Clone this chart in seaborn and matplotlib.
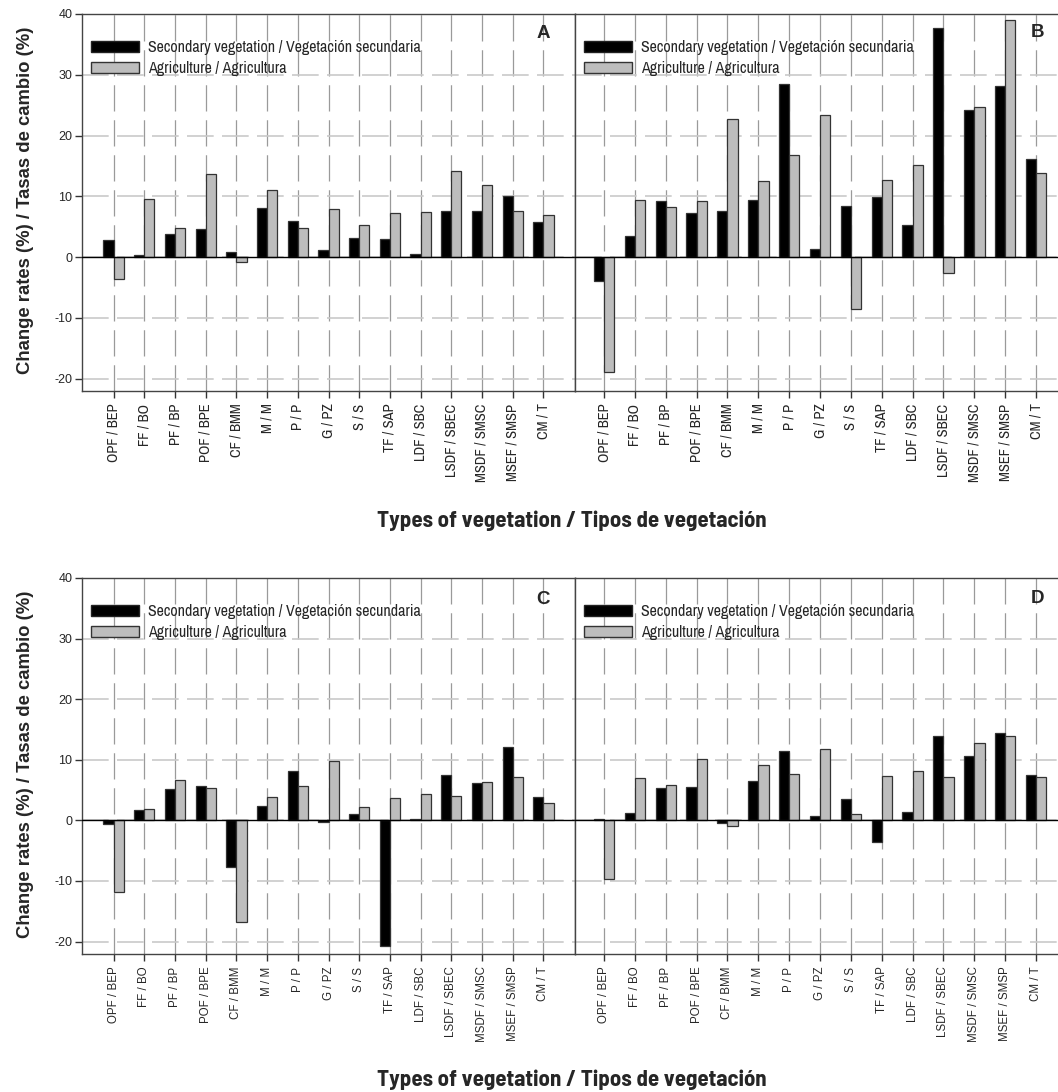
import matplotlib
matplotlib.use("Agg")
import matplotlib.pyplot as plt
from matplotlib.patches import Patch
import seaborn as sns
import pandas as pd

categories = ["OPF / BEP", "FF / BO", "PF / BP", "POF / BPE", "CF / BMM", "M / M", "P / P",
              "G / PZ", "S / S", "TF / SAP", "LDF / SBC", "LSDF / SBEC", "MSDF / SMSC",
              "MSEF / SMSP", "CM / T"]
series = ["Secondary vegetation / Vegetación secundaria", "Agriculture / Agricultura"]

a_sec = [2.75, 0.3, 3.85, 4.6, 0.9, 8.1, 5.9, 1.2, 3.2, 2.9, 0.45, 7.6, 7.5, 10.05, 5.8]
a_agr = [-3.6, 9.6, 4.7, 13.7, -0.9, 11.0, 4.7, 7.9, 5.2, 7.25, 7.35, 14.1, 11.8, 7.5, 6.9]

b_sec = [-3.9, 3.45, 9.3, 7.2, 7.6, 9.4, 28.5, 1.4, 8.35, 9.8, 5.2, 37.7, 24.2, 28.1, 16.2]
b_agr = [-19.0, 9.4, 8.2, 9.2, 22.7, 12.5, 16.8, 23.4, -8.5, 12.7, 15.2, -2.6, 24.7, 39.0, 13.8]

c_sec = [-0.55, 1.75, 5.2, 5.7, -7.7, 2.4, 8.1, -0.3, 1.1, -20.7, 0.3, 7.5, 6.1, 12.05, 3.8]
c_agr = [-11.8, 1.9, 6.7, 5.35, -16.7, 3.9, 5.7, 9.85, 2.15, 3.7, 4.35, 4.1, 6.3, 7.1, 2.9]

d_sec = [0.15, 1.3, 5.35, 5.5, -0.45, 6.55, 11.4, 0.8, 3.6, -3.5, 1.4, 13.9, 10.7, 14.5, 7.45]
d_agr = [-9.7, 7.05, 5.9, 10.1, -0.9, 9.1, 7.6, 11.8, 1.05, 7.3, 8.1, 7.2, 12.8, 14.0, 7.2]

yticks = [-20, -10, 0, 10, 20, 30, 40]

panels = [("A", a_sec, a_agr), ("B", b_sec, b_agr), ("C", c_sec, c_agr), ("D", d_sec, d_agr)]

narrow = ["Archivo Narrow", "Liberation Sans Narrow", "Liberation Sans", "DejaVu Sans"]
narrow_bold = ["Barlow Semi Condensed", "Liberation Sans Narrow", "Liberation Sans", "DejaVu Sans"]
wide = ["Liberation Sans", "DejaVu Sans"]

sns.set_style("white")
plt.rcParams["font.family"] = narrow

W, H = 1058, 1092
fig = plt.figure(figsize=(W / 100, H / 100), dpi=100)

colors = ["#000000", "#bdbdbd"]

# axes boxes in pixels: left, top, right, bottom
boxes = {"A": (82, 14, 575, 391), "B": (575, 14, 1058, 391),
         "C": (82, 578, 575, 954), "D": (575, 578, 1058, 954)}
xlims = {"A": (-1.03, 15.03), "B": (-0.94, 14.71), "C": (-1.03, 15.03), "D": (-0.94, 14.71)}
letter_pos = {"A": (0.935, 0.947), "B": (0.957, 0.95), "C": (0.935, 0.944), "D": (0.957, 0.945)}

for letter, sec, agr in panels:
    l, t, r, b = boxes[letter]
    ax = fig.add_axes([l / W, 1 - b / H, (r - l) / W, (b - t) / H])
    df = pd.DataFrame({
        "type": categories * 2,
        "cover": [series[0]] * len(categories) + [series[1]] * len(categories),
        "rate": sec + agr,
    })
    sns.barplot(data=df, x="type", y="rate", hue="cover", order=categories,
                hue_order=series, palette=colors, width=0.66, errorbar=None,
                edgecolor="#333333", linewidth=0.9, legend=False, ax=ax, zorder=3)
    ax.set_axisbelow(True)
    ax.set_xlim(*xlims[letter])
    ax.set_ylim(-22.05, 40)
    ax.set_yticks(yticks)
    ax.yaxis.grid(True, color="#c9c9c9", linestyle=(0, (16, 5)), linewidth=1.2)
    ax.xaxis.grid(True, color="#9a9a9a", linestyle=(0, (21, 7)), linewidth=0.9)
    ax.axhline(0, color="black", linewidth=1.0, zorder=4)
    for s in ax.spines.values():
        s.set_color("#444444")
        s.set_linewidth(1.0)
    if letter in ("B", "D"):
        ax.spines["right"].set_visible(False)

    top_row = letter in ("A", "B")
    ax.set_xticks(range(len(categories)))
    if top_row:
        ax.set_xticklabels(categories, rotation=90, family=narrow, fontsize=10.5)
    else:
        ax.set_xticklabels(categories, rotation=90, family=wide, fontsize=8.3)
    ax.tick_params(axis="x", direction="out", length=5, width=1, color="#333333", pad=4, bottom=True)
    if letter in ("A", "C"):
        ax.set_yticklabels([str(v) for v in yticks], family=wide, fontsize=9)
        ax.tick_params(axis="y", direction="out", length=5, width=1, color="#333333", left=True, pad=2)
    else:
        ax.set_yticklabels([])
        ax.tick_params(axis="y", length=0)
    ax.set_ylabel("")
    ax.set_xlabel("")

    handles = [Patch(facecolor=colors[0], edgecolor="#222222", label=series[0]),
               Patch(facecolor=colors[1], edgecolor="#333333", label=series[1])]
    ax.legend(handles=handles, loc="upper left", bbox_to_anchor=(-0.008, 0.965), frameon=False,
              prop={"family": narrow, "size": 11.5}, handlelength=3.0, handleheight=0.65,
              labelspacing=0.4, handletextpad=0.55, borderaxespad=0.4)
    lx, ly = letter_pos[letter]
    ax.text(lx, ly, letter, transform=ax.transAxes, fontsize=13.5, fontweight="bold",
            family=wide, ha="center", va="center")

# shared axis titles
for yc in (200, 764):
    fig.text(26 / W, 1 - yc / H, "Change rates (%) / Tasas de cambio (%)", rotation=90,
             ha="center", va="center", fontsize=13.3, fontweight="bold", family=wide)
for yc in (521, 1080):
    fig.text(572 / W, 1 - yc / H, "Types of vegetation / Tipos de vegetación", ha="center",
             va="center", fontsize=16.5, fontweight="bold", family=narrow_bold)

fig.savefig("out.png", dpi=100)
